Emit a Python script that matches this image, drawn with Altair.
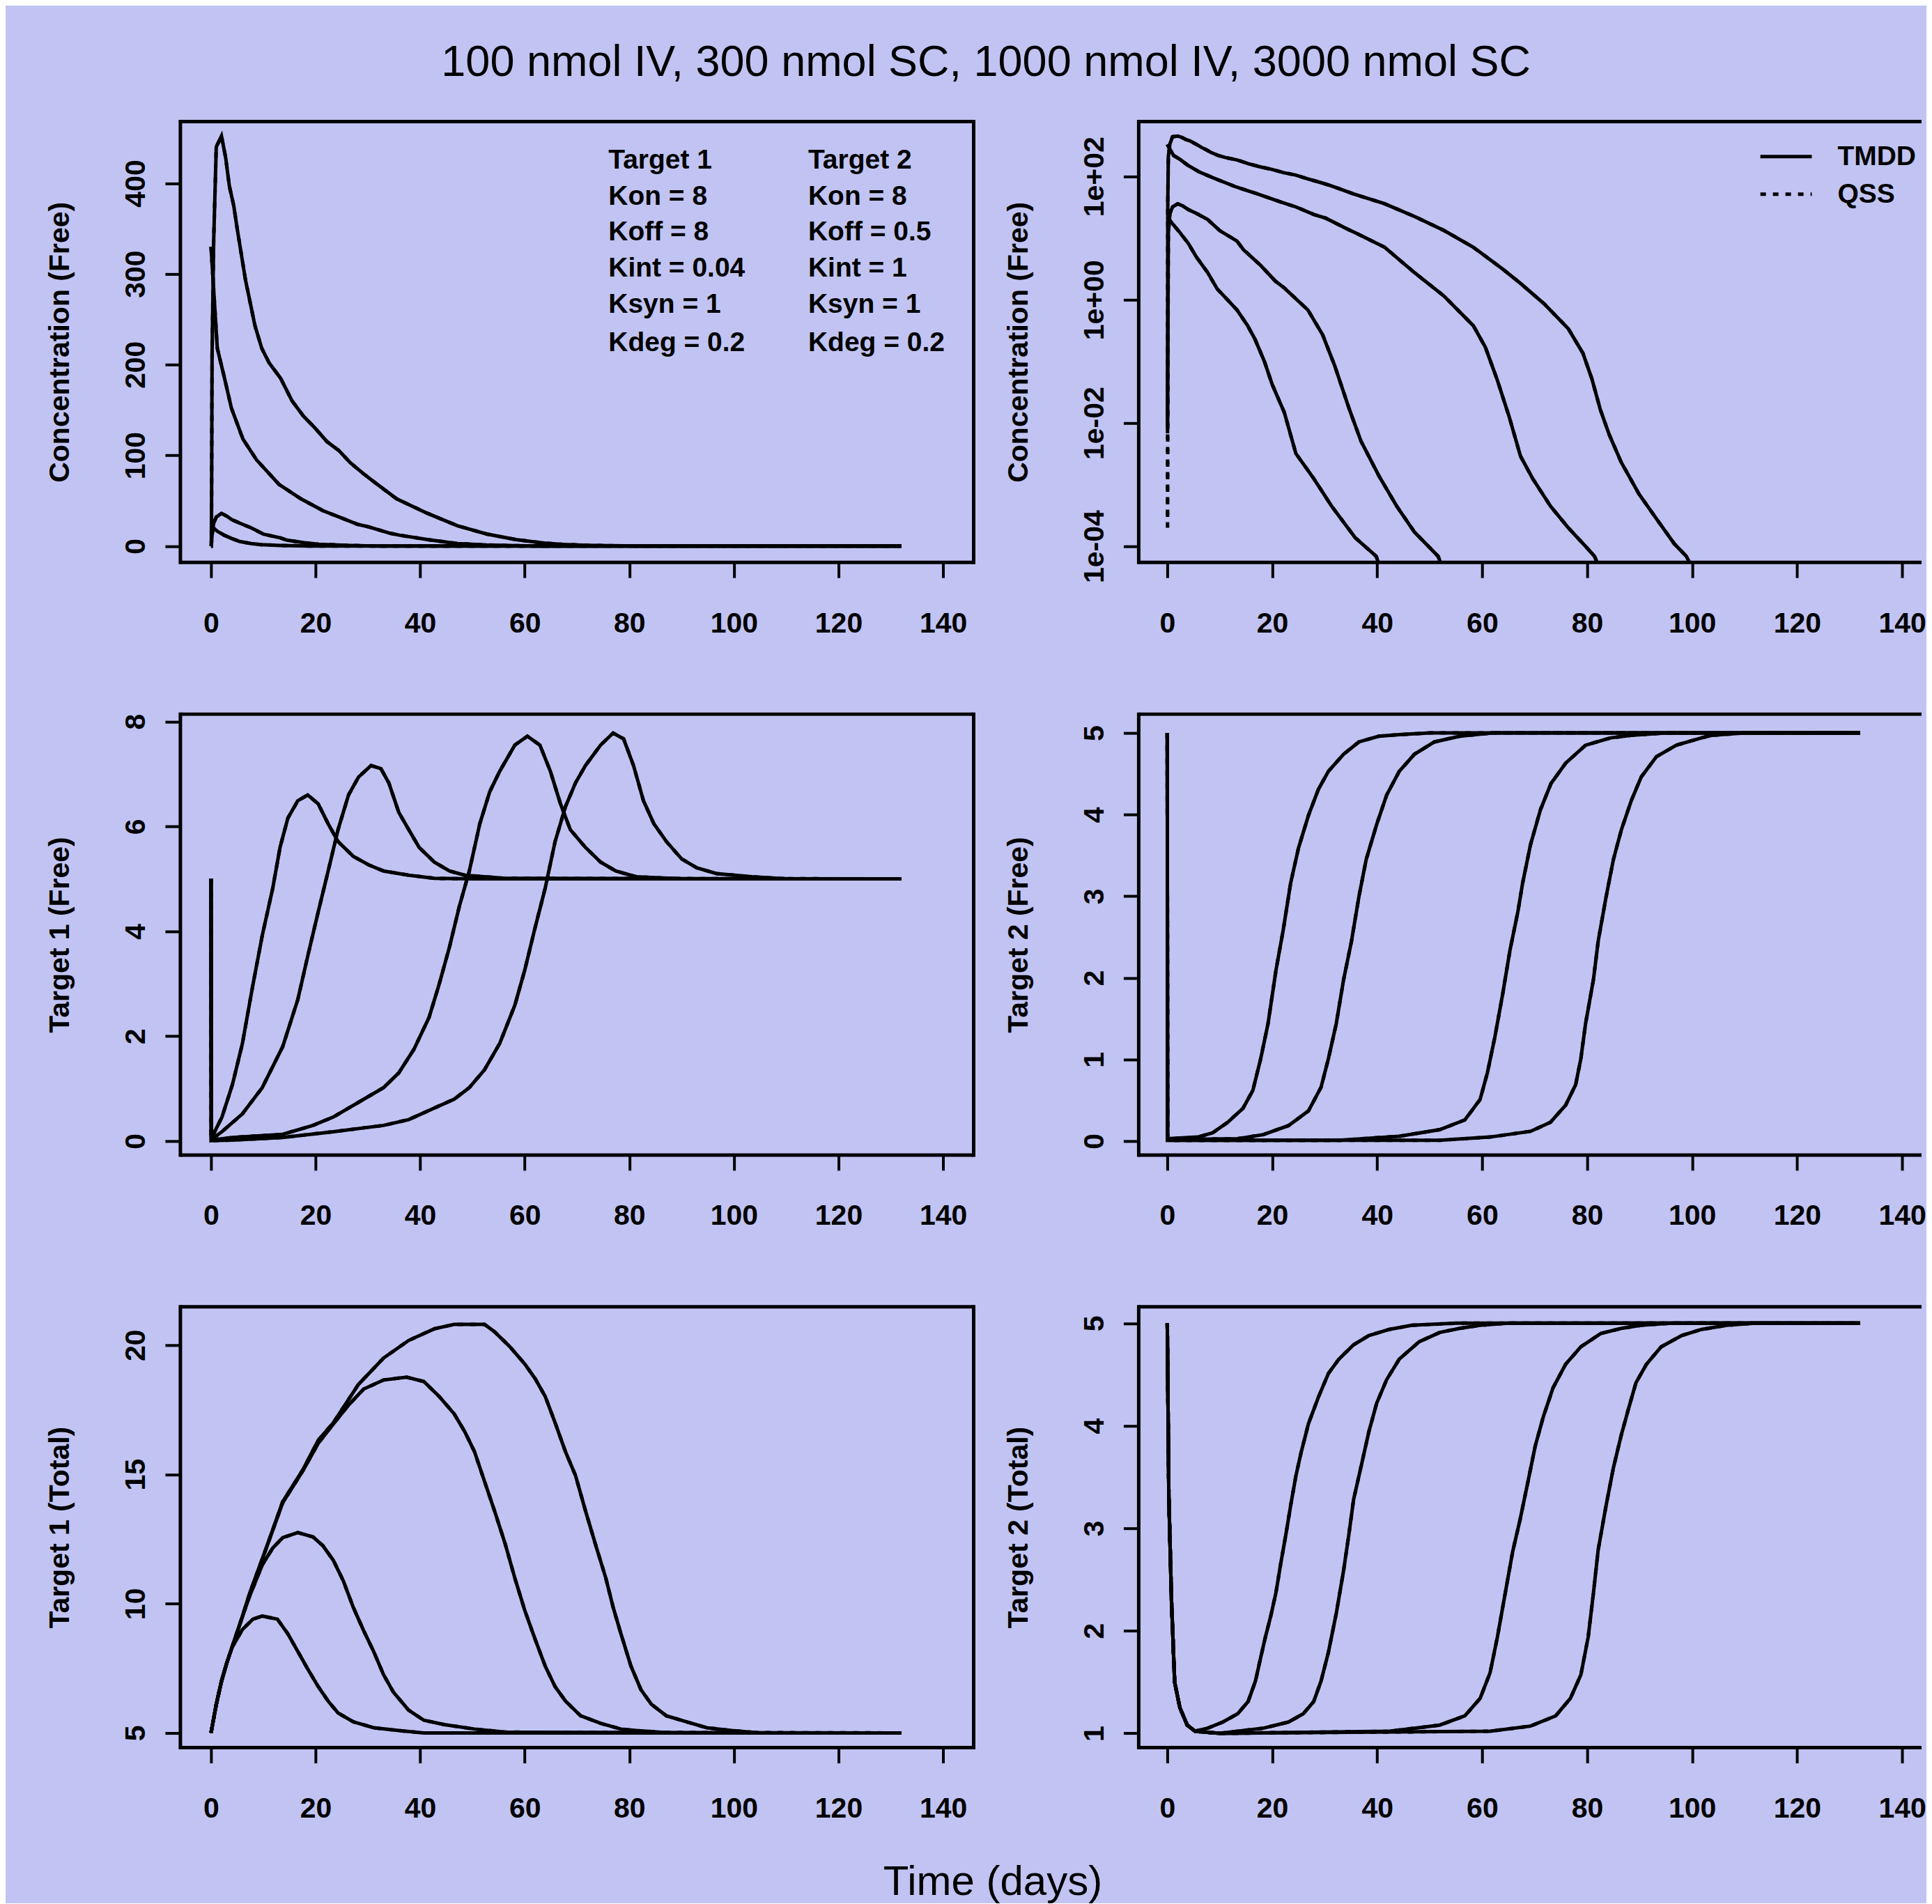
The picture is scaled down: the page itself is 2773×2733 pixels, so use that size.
import altair as alt
import pandas as pd

DOSES = ["100 nmol IV", "300 nmol SC", "1000 nmol IV", "3000 nmol SC"]
X_TICKS = [0, 20, 40, 60, 80, 100, 120, 140]
MAIN_TITLE = "100 nmol IV, 300 nmol SC, 1000 nmol IV, 3000 nmol SC"
X_TITLE = "Time (days)"

# ---------------- Concentration (Free) ----------------
conc1_t = [0, 1.2, 2.5, 4, 5.5, 7.7, 9.5, 11, 13.3, 15.3, 16.7, 18.5, 20, 22.3, 24.5, 27.9, 31.3, 35.8, 39.8, 42, 132]
conc1_v = [22, 16.3, 12, 8.2, 5, 2.75, 1.5, 1.1, 0.68, 0.38, 0.23, 0.1, 0.042, 0.0148, 0.0032, 0.00126, 0.00045, 0.000138, 0.000069, 0.00002, 1e-9]
conc2_t = [0, 0.05, 0.2, 0.5, 1, 2, 3, 4, 5.6, 7.7, 10, 13.3, 14.5, 17.8, 20.6, 22.3, 26.8, 29.6, 31.9, 34.7, 36.9, 40.3, 43.7, 47.1, 51.6, 54, 132]
conc2_v = [0, 0.01, 12, 25, 32, 36, 33, 29, 25, 20, 13.2, 8.9, 6.5, 3.6, 2.0, 1.55, 0.68, 0.27, 0.085, 0.0166, 0.0051, 0.0014, 0.00045, 0.00017, 0.000069, 0.00002, 1e-9]
conc3_t = [0, 1.2, 2.5, 3.9, 6.1, 8.7, 13, 17.2, 21.4, 24.5, 28, 30.2, 34.3, 36, 41.4, 47.1, 52.7, 58.3, 60.6, 62.8, 65.1, 67.3, 69.6, 73, 76.4, 79.7, 81.4, 84, 132]
conc3_v = [330, 218, 187, 152, 118, 95, 68, 52, 39, 32, 24, 21, 14, 12, 7.1, 2.75, 1.15, 0.38, 0.17, 0.052, 0.013, 0.0029, 0.00126, 0.00045, 0.0002, 0.0001, 0.000069, 0.00002, 1e-9]
conc4_t = [0, 0.05, 0.1, 0.2, 0.5, 1, 2, 2.8, 3.5, 4.35, 5, 5.7, 6.6, 7.5, 8.4, 9.7, 11.1, 13.3, 15.5, 17.7, 19.9, 22.2, 24.5, 26.6, 29.1, 31.1, 35.5, 41.4, 47.1, 52.7, 58.3, 64, 67.3, 71.8, 76.4, 79.2, 80.9, 82.5, 84.2, 86.5, 89.9, 93.2, 96.6, 98.9, 102, 132]
conc4_v = [0, 0.0068, 40, 210, 335, 440, 452, 428, 397, 375, 350, 325, 293, 268, 243, 218, 202, 185, 160, 143, 130, 115, 105, 92, 80, 71, 52, 36, 22.4, 13.3, 7.1, 3.1, 1.84, 0.86, 0.34, 0.135, 0.052, 0.0166, 0.0065, 0.0023, 0.0007, 0.00028, 0.00011, 0.000069, 0.00002, 1e-9]
# QSS differs visibly only at the first sampled time of the SC doses
qss_first_sc = [None, 0.0003, None, 0.0002]

# ---------------- Target 1 (Free) ----------------
t1f1_t = [0, 0.05, 2.1, 4.1, 6, 7.9, 9.8, 11.8, 13.2, 14.7, 16.6, 18.5, 20.5, 22.4, 24.3, 27.2, 30.1, 33, 37.8, 42.7, 50, 132]
t1f1_v = [5, 0.05, 0.46, 1.08, 1.86, 2.92, 3.92, 4.82, 5.6, 6.16, 6.49, 6.6, 6.43, 6.05, 5.71, 5.43, 5.27, 5.15, 5.07, 5.01, 5.0, 5.0]
t1f2_t = [0, 0.05, 2.1, 6, 9.8, 13.7, 16.6, 18.5, 20.5, 22.4, 24.3, 26.3, 28.2, 30.6, 32.5, 34, 35.9, 37.8, 39.8, 42.7, 45.6, 48.5, 56.2, 132]
t1f2_v = [5, 0.03, 0.18, 0.52, 1.02, 1.8, 2.7, 3.53, 4.37, 5.15, 5.94, 6.6, 6.94, 7.16, 7.1, 6.83, 6.27, 5.94, 5.6, 5.32, 5.15, 5.07, 5.01, 5.0]
t1f3_t = [0, 0.05, 4.1, 13.7, 19.5, 23.4, 28.2, 33, 35.9, 38.8, 41.7, 43.6, 45.6, 47.5, 49.4, 51.4, 53.3, 55.2, 58.1, 60.5, 62.9, 64.9, 66.8, 68.7, 71.6, 74.5, 77.4, 81.3, 90, 132]
t1f3_v = [5, 0.02, 0.07, 0.13, 0.3, 0.46, 0.74, 1.02, 1.3, 1.75, 2.36, 2.98, 3.7, 4.48, 5.15, 6.05, 6.66, 7.05, 7.55, 7.72, 7.55, 7.05, 6.44, 5.94, 5.6, 5.32, 5.15, 5.04, 5.0, 5.0]
t1f4_t = [0, 0.05, 4.1, 13.7, 23.4, 33, 37.8, 42.7, 46.5, 49.4, 52.3, 55.2, 58.1, 60, 61.9, 63.9, 65.8, 67.8, 69.7, 71.6, 74.5, 76.9, 78.9, 80.8, 82.7, 84.7, 87.1, 90, 92.9, 96.7, 103.5, 110, 132]
t1f4_v = [5, 0.01, 0.02, 0.07, 0.18, 0.3, 0.41, 0.63, 0.8, 1.02, 1.36, 1.86, 2.59, 3.26, 4.04, 4.82, 5.71, 6.38, 6.83, 7.16, 7.55, 7.78, 7.67, 7.16, 6.49, 6.05, 5.71, 5.38, 5.21, 5.1, 5.04, 5.0, 5.0]

# ---------------- Target 2 (Free) ----------------
t2f1_t = [0, 0.05, 5.8, 8.6, 11.5, 14.4, 16.3, 17.8, 19.2, 20.7, 22.1, 23.5, 25, 26.9, 28.8, 30.7, 33.6, 36.5, 40.3, 44.2, 50, 132]
t2f1_v = [5, 0.03, 0.05, 0.1, 0.23, 0.4, 0.62, 1.01, 1.44, 2.09, 2.59, 3.16, 3.59, 3.99, 4.31, 4.53, 4.74, 4.89, 4.96, 4.98, 5.0, 5.0]
t2f2_t = [0, 0.05, 13.4, 18.3, 23.1, 26.9, 29.3, 30.7, 32.2, 33.6, 35.1, 36.5, 37.9, 39.9, 41.8, 44.2, 47.1, 50.9, 55.7, 62, 132]
t2f2_v = [5, 0.02, 0.03, 0.08, 0.19, 0.37, 0.66, 1.01, 1.44, 1.98, 2.45, 2.99, 3.45, 3.88, 4.24, 4.53, 4.74, 4.89, 4.96, 5.0, 5.0]
t2f3_t = [0, 0.05, 32.7, 44.2, 51.9, 56.7, 59.6, 61, 62.4, 63.9, 65.3, 66.8, 67.7, 69.2, 71.1, 73.1, 75.9, 79.7, 84.5, 88.4, 95, 132]
t2f3_v = [5, 0.01, 0.01, 0.06, 0.14, 0.26, 0.51, 0.84, 1.27, 1.8, 2.34, 2.81, 3.16, 3.63, 4.06, 4.38, 4.63, 4.85, 4.94, 4.97, 5.0, 5.0]
t2f4_t = [0, 0.05, 51.9, 61.5, 69.2, 73, 75.9, 77.8, 78.8, 79.7, 81.2, 82.1, 83.6, 85, 86.5, 88.4, 90.3, 93.2, 97, 101.8, 103.7, 110, 132]
t2f4_v = [5, 0.01, 0.01, 0.05, 0.12, 0.23, 0.44, 0.69, 1.01, 1.44, 1.98, 2.45, 2.99, 3.45, 3.81, 4.17, 4.46, 4.71, 4.85, 4.94, 4.97, 5.0, 5.0]

# ---------------- Target 1 (Total) ----------------
t1t1_t = [0, 1, 2, 3, 4, 6, 8, 9.8, 12.7, 14.7, 16.6, 18.5, 20.5, 22.4, 24.3, 27.2, 31.1, 35.9, 40.7, 132]
t1t1_v = [5, 6.1, 7.0, 7.7, 8.3, 9.0, 9.4, 9.52, 9.4, 8.83, 8.15, 7.47, 6.79, 6.23, 5.77, 5.43, 5.2, 5.09, 5.0, 5.0]
t1t2_t = [0, 1, 2, 3, 4, 6, 7.4, 9.8, 11.8, 13.7, 16.6, 19.5, 21.4, 23.4, 25.3, 27.2, 29.2, 31.1, 33, 34.9, 37.8, 40.7, 44.6, 50.4, 56.2, 132]
t1t2_v = [5, 6.1, 7.0, 7.7, 8.3, 9.5, 10.3, 11.5, 12.15, 12.55, 12.75, 12.58, 12.24, 11.67, 10.88, 9.86, 8.95, 8.15, 7.25, 6.57, 5.88, 5.49, 5.32, 5.15, 5.03, 5.0]
t1t3_t = [0, 1, 2, 3, 4, 6, 7.4, 10.3, 13.7, 17.6, 20.5, 23.4, 26.3, 29.2, 33, 37.4, 40.7, 43.6, 46.5, 48.5, 50.4, 52.3, 54.2, 56.2, 58.1, 60, 62, 63.9, 65.8, 67.8, 70.7, 74.5, 78.4, 81.3, 88, 132]
t1t3_v = [5, 6.1, 7.0, 7.7, 8.3, 9.5, 10.4, 12.0, 13.9, 15.15, 16.2, 16.95, 17.68, 18.3, 18.65, 18.76, 18.59, 18.02, 17.34, 16.66, 15.87, 14.73, 13.6, 12.35, 10.99, 9.74, 8.61, 7.59, 6.79, 6.23, 5.66, 5.37, 5.15, 5.09, 5.0, 5.0]
t1t4_t = [0, 1, 2, 3, 4, 6, 7.4, 10.3, 13.7, 17.6, 20.5, 23.4, 28.2, 33, 37.8, 42.7, 46.5, 52.3, 54.2, 57.1, 60, 62, 63.9, 65.8, 67.8, 69.7, 71.6, 73.6, 75.5, 76.9, 78.4, 80.3, 82.2, 84.2, 87.1, 90.9, 94.8, 99.6, 105, 132]
t1t4_v = [5, 6.1, 7.0, 7.7, 8.3, 9.5, 10.4, 12.0, 13.94, 15.19, 16.32, 17.0, 18.48, 19.5, 20.18, 20.63, 20.8, 20.8, 20.52, 19.95, 19.27, 18.7, 18.02, 17.0, 15.87, 14.96, 13.6, 12.24, 10.99, 9.86, 8.83, 7.59, 6.68, 6.11, 5.66, 5.43, 5.2, 5.09, 5.0, 5.0]

# ---------------- Target 2 (Total) ----------------
t2t1_t = [0, 0.3, 0.8, 1.4, 2.4, 3.8, 5.3, 7.7, 10.6, 13.4, 15.4, 16.8, 17.8, 18.7, 19.7, 20.7, 21.6, 22.6, 23.5, 24.5, 25.5, 26.9, 28.8, 30.7, 32.7, 35.5, 38.4, 42.3, 46.6, 55, 132]
t2t1_v = [5, 3.3, 2.3, 1.5, 1.25, 1.08, 1.02, 1.05, 1.11, 1.19, 1.31, 1.51, 1.74, 1.94, 2.14, 2.37, 2.65, 2.94, 3.22, 3.51, 3.74, 4.02, 4.28, 4.51, 4.65, 4.79, 4.88, 4.94, 4.98, 5.0, 5.0]
t2t2_t = [0, 0.3, 0.8, 1.4, 2.4, 3.8, 5.3, 10, 18.3, 23.1, 25.9, 27.9, 29.3, 30.7, 32.2, 33.6, 34.6, 35.5, 37, 38.4, 39.9, 41.8, 44.2, 48, 51.9, 55.7, 59.6, 65, 132]
t2t2_v = [5, 3.3, 2.3, 1.5, 1.25, 1.08, 1.02, 1.0, 1.05, 1.11, 1.19, 1.31, 1.51, 1.79, 2.17, 2.59, 2.94, 3.28, 3.62, 3.94, 4.22, 4.45, 4.65, 4.82, 4.91, 4.95, 4.98, 5.0, 5.0]
t2t3_t = [0, 0.3, 0.8, 1.4, 2.4, 3.8, 5.3, 10, 42.3, 51.9, 56.7, 59.6, 61.5, 62.9, 64.4, 65.8, 67.2, 68.7, 70.1, 71.6, 73.5, 75.9, 78.8, 82.6, 86.5, 90.3, 96, 132]
t2t3_v = [5, 3.3, 2.3, 1.5, 1.25, 1.08, 1.02, 1.0, 1.02, 1.08, 1.17, 1.34, 1.59, 1.94, 2.37, 2.77, 3.08, 3.45, 3.8, 4.08, 4.37, 4.6, 4.77, 4.9, 4.95, 4.98, 5.0, 5.0]
t2t4_t = [0, 0.3, 0.8, 1.4, 2.4, 3.8, 5.3, 10, 61.5, 69.2, 74, 76.8, 78.8, 80.2, 81.2, 82.1, 83.6, 85, 86.5, 87.9, 89.3, 91.3, 94.1, 98, 101.8, 106.6, 112, 132]
t2t4_v = [5, 3.3, 2.3, 1.5, 1.25, 1.08, 1.02, 1.0, 1.02, 1.07, 1.17, 1.34, 1.57, 1.94, 2.37, 2.79, 3.22, 3.59, 3.91, 4.17, 4.42, 4.6, 4.77, 4.88, 4.94, 4.98, 5.0, 5.0]

# ---------------- legend texts ----------------
param_col1 = ["Target 1", "Kon = 8", "Koff = 8", "Kint = 0.04", "Ksyn = 1", "Kdeg = 0.2"]
param_col2 = ["Target 2", "Kon = 8", "Koff = 0.5", "Kint = 1", "Ksyn = 1", "Kdeg = 0.2"]
param_col_x = [76.0, 114.2]
param_row_y = [425, 385, 346, 306, 266, 224]
model_labels = ["TMDD", "QSS"]
model_line_x = [113.0, 122.8]
model_text_x = 127.7
model_row_y = [210, 51.5]

# ---------------- styling ----------------
FONT = "Liberation Sans, Arial, Helvetica, sans-serif"
BG = "#c1c4f2"
PW_L, PW_R, PH = 1139, 1124, 633
XDOM_L = [-5.86, 145.85]
XDOM_R = [-5.44, 143.71]     # right column runs off the page edge, as in the original
LW = 5
FW = 5
DOT = [8, 10]
TICK_FS = 41
LEG_FS = 39

frame_df = pd.DataFrame({"k": [0]})


def frame(width, right_side):
    base = alt.Chart(frame_df)
    st = dict(color="black", strokeWidth=FW)
    parts = [
        base.mark_rule(**st).encode(x=alt.value(0), x2=alt.value(width), y=alt.value(0)),
        base.mark_rule(**st).encode(x=alt.value(0), x2=alt.value(width), y=alt.value(PH)),
        base.mark_rule(**st).encode(x=alt.value(0), y=alt.value(-FW / 2), y2=alt.value(PH + FW / 2)),
    ]
    if right_side:
        parts.append(base.mark_rule(**st).encode(x=alt.value(width), y=alt.value(-FW / 2),
                                                  y2=alt.value(PH + FW / 2)))
    return parts


def long_df(series, override_first=None):
    rows = []
    for i, (dose, (ts, vs)) in enumerate(zip(DOSES, series)):
        assert len(ts) == len(vs), (dose, len(ts), len(vs))
        vs = list(vs)
        if override_first is not None and override_first[i] is not None:
            vs[1] = override_first[i]
        for t, v in zip(ts, vs):
            rows.append({"dose": dose, "t": t, "v": v})
    return pd.DataFrame(rows)


def x_axis(with_title=False):
    kw = dict(values=X_TICKS, title=None, domain=False, grid=False, ticks=True,
              tickSize=22, tickWidth=4, tickColor="black", format="d",
              labelFont=FONT, labelFontSize=TICK_FS, labelFontWeight="bold",
              labelColor="black", labelPadding=46, labelBaseline="top",
              labelAlign="center", labelFlush=False, labelOverlap=False)
    if with_title:
        kw.update(title=X_TITLE, titleFont=FONT, titleFontSize=60, titleFontWeight="normal",
                  titleColor="black", titleX=1166, titleY=164, titleAlign="center",
                  titleBaseline="top", titleAngle=0)
    return alt.Axis(**kw)


def y_axis(values, title, label_expr=None):
    kw = dict(values=values, title=title, domain=False, grid=False, ticks=True,
              tickSize=22, tickWidth=4, tickColor="black",
              labelFont=FONT, labelFontSize=TICK_FS, labelFontWeight="bold",
              labelColor="black", labelPadding=29, labelAngle=270,
              labelAlign="center", labelBaseline="alphabetic",
              labelFlush=False, labelOverlap=False,
              titleFont=FONT, titleFontSize=41, titleFontWeight="bold",
              titleColor="black", titleX=-172, titleY=PH / 2, titleAngle=270,
              titleAlign="center", titleBaseline="middle")
    if label_expr:
        kw["labelExpr"] = label_expr
    return alt.Axis(**kw)


def panel(series, ytitle, ydomain, yticks, right_col, log=False, qss_override=None,
          extras=(), label_expr=None, x_title=False):
    width = PW_R if right_col else PW_L
    xdom = XDOM_R if right_col else XDOM_L
    tm = long_df(series)
    qs = long_df(series, qss_override)
    if log:
        yscale = alt.Scale(type="log", domain=ydomain, nice=False)
    else:
        yscale = alt.Scale(domain=ydomain, nice=False, zero=False)
    xenc = alt.X("t:Q", scale=alt.Scale(domain=xdom, nice=False, zero=False), axis=x_axis(x_title))
    yenc = alt.Y("v:Q", scale=yscale, axis=y_axis(yticks, ytitle, label_expr))
    q = alt.Chart(qs).mark_line(color="black", strokeWidth=LW, strokeDash=DOT, clip=True)
    s = alt.Chart(tm).mark_line(color="black", strokeWidth=LW, clip=True)
    if log:
        q = q.transform_filter("datum.v > 0")
        s = s.transform_filter("datum.v > 0")
    q = q.encode(x=xenc, y=yenc, detail="dose:N")
    s = s.encode(x=xenc, y=yenc, detail="dose:N")
    layers = [q, s, *extras, *frame(width, not right_col)]
    return alt.layer(*layers).properties(width=width, height=PH)


# legend layers
param_df = pd.DataFrame(
    [{"t": param_col_x[0], "v": y, "label": lab} for lab, y in zip(param_col1, param_row_y)]
    + [{"t": param_col_x[1], "v": y, "label": lab} for lab, y in zip(param_col2, param_row_y)]
)
param_text = alt.Chart(param_df).mark_text(
    align="left", baseline="middle", font=FONT, fontSize=LEG_FS, fontWeight="bold", color="black"
).encode(x="t:Q", y="v:Q", text="label:N")

model_line_df = pd.DataFrame([{"t": model_line_x[0], "t2": model_line_x[1], "v": model_row_y[0]}])
model_dot_df = pd.DataFrame([{"t": model_line_x[0], "t2": model_line_x[1], "v": model_row_y[1]}])
model_txt_df = pd.DataFrame([{"t": model_text_x, "v": y, "label": lab} for lab, y in zip(model_labels, model_row_y)])
leg_solid = alt.Chart(model_line_df).mark_rule(color="black", strokeWidth=LW).encode(x="t:Q", x2="t2:Q", y="v:Q")
leg_dot = alt.Chart(model_dot_df).mark_rule(color="black", strokeWidth=LW, strokeDash=DOT).encode(x="t:Q", x2="t2:Q", y="v:Q")
leg_text = alt.Chart(model_txt_df).mark_text(
    align="left", baseline="middle", font=FONT, fontSize=LEG_FS, fontWeight="bold", color="black"
).encode(x="t:Q", y="v:Q", text="label:N")

conc_series = [(conc1_t, conc1_v), (conc2_t, conc2_v), (conc3_t, conc3_v), (conc4_t, conc4_v)]
log_expr = ("datum.value < 0.001 ? '1e-04' : datum.value < 0.1 ? '1e-02' : "
            "datum.value < 10 ? '1e+00' : '1e+02'")

p_tl = panel(conc_series, "Concentration (Free)", [-18, 468], [0, 100, 200, 300, 400], False,
             qss_override=qss_first_sc, extras=(param_text,))
p_tr = panel(conc_series, "Concentration (Free)", [10 ** -4.26, 10 ** 2.89], [1e-4, 1e-2, 1, 100], True,
             log=True, qss_override=qss_first_sc, extras=(leg_solid, leg_dot, leg_text),
             label_expr=log_expr)
p_ml = panel([(t1f1_t, t1f1_v), (t1f2_t, t1f2_v), (t1f3_t, t1f3_v), (t1f4_t, t1f4_v)],
             "Target 1 (Free)", [-0.265, 8.14], [0, 2, 4, 6, 8], False)
p_mr = panel([(t2f1_t, t2f1_v), (t2f2_t, t2f2_v), (t2f3_t, t2f3_v), (t2f4_t, t2f4_v)],
             "Target 2 (Free)", [-0.17, 5.23], [0, 1, 2, 3, 4, 5], True)
p_bl = panel([(t1t1_t, t1t1_v), (t1t2_t, t1t2_v), (t1t3_t, t1t3_v), (t1t4_t, t1t4_v)],
             "Target 1 (Total)", [4.43, 21.48], [5, 10, 15, 20], False, x_title=True)
p_br = panel([(t2t1_t, t2t1_v), (t2t2_t, t2t2_v), (t2t3_t, t2t3_v), (t2t4_t, t2t4_v)],
             "Target 2 (Total)", [0.86, 5.16], [1, 2, 3, 4, 5], True)

chart = alt.concat(
    p_tl, p_tr, p_ml, p_mr, p_bl, p_br,
    columns=2, bounds="flush",
    spacing={"row": 218, "column": 237},
    title=alt.TitleParams(MAIN_TITLE, orient="top", anchor="middle",
                          font=FONT, fontSize=63, fontWeight="normal", color="black",
                          baseline="bottom", offset=-16),
    padding={"left": 58, "top": 51, "right": 0, "bottom": 0},
).configure(background=BG).configure_view(stroke="transparent", strokeWidth=0)

chart.save("out.html", embed_options={"renderer": "svg", "actions": False})
